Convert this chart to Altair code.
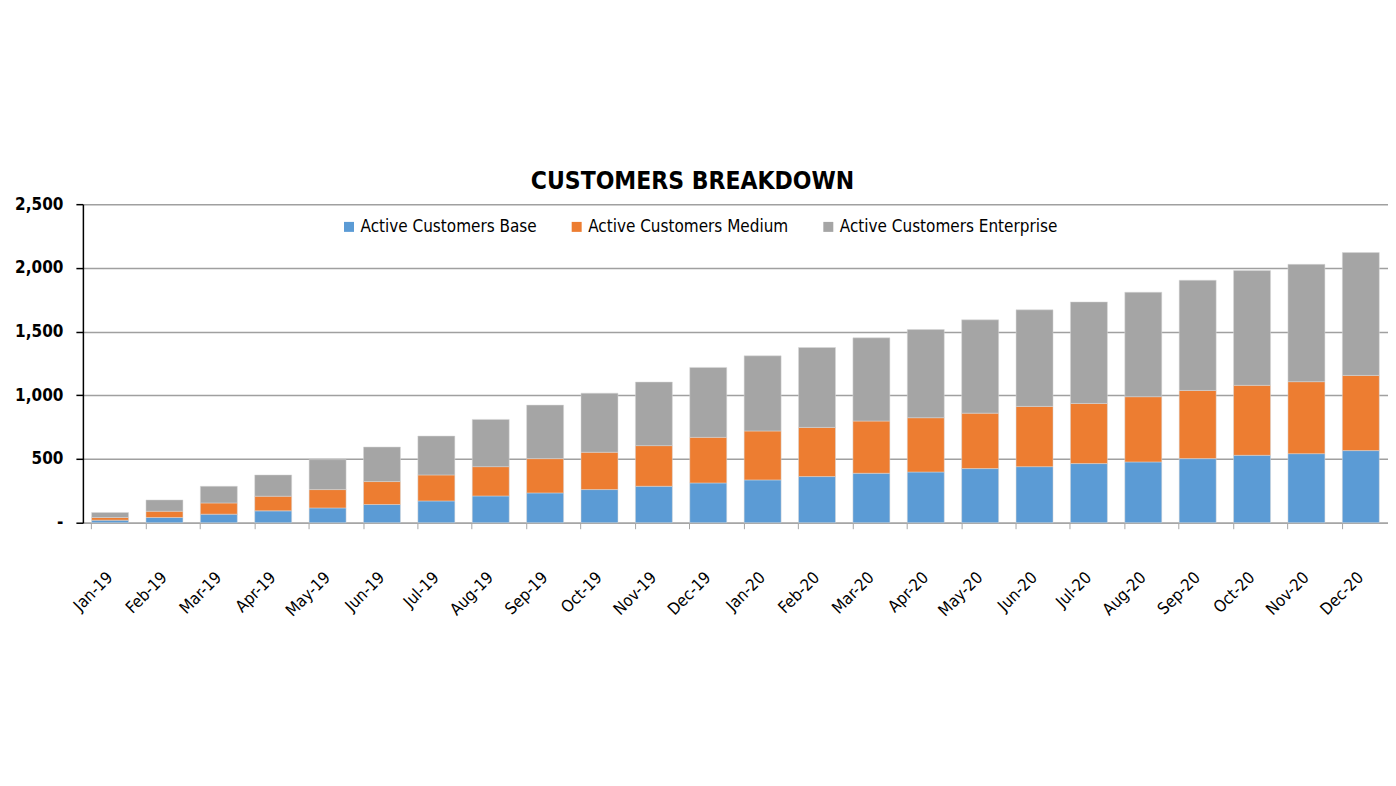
import altair as alt
import pandas as pd

months = ["Jan-19", "Feb-19", "Mar-19", "Apr-19", "May-19", "Jun-19", "Jul-19", "Aug-19",
          "Sep-19", "Oct-19", "Nov-19", "Dec-19", "Jan-20", "Feb-20", "Mar-20", "Apr-20",
          "May-20", "Jun-20", "Jul-20", "Aug-20", "Sep-20", "Oct-20", "Nov-20", "Dec-20"]
base = [20, 41, 67, 93, 116, 143, 171, 210, 234, 260, 286, 312,
        336, 362, 388, 398, 425, 440, 464, 477, 503, 529, 542, 566]
medium = [21, 49, 88, 115, 144, 180, 204, 230, 269, 293, 319, 358,
          384, 386, 410, 426, 435, 473, 472, 512, 535, 549, 565, 590]
enterprise = [39, 89, 131, 167, 235, 271, 305, 371, 420, 464, 499, 549,
              590, 627, 653, 692, 732, 758, 797, 820, 865, 901, 921, 964]
series = ["Active Customers Base", "Active Customers Medium", "Active Customers Enterprise"]
colors = ["#5B9BD5", "#ED7D31", "#A5A5A5"]

rows = []
for i, m in enumerate(months):
    for k, (name, vals) in enumerate(zip(series, [base, medium, enterprise])):
        rows.append({"month": m, "series": name, "value": vals[i], "order": k})
df = pd.DataFrame(rows)

FONT = "DejaVu Sans Condensed, DejaVu Sans, sans-serif"

chart = alt.Chart(df).mark_bar(stroke="#D9D9D9", strokeWidth=0.5).encode(
    x=alt.X("month:N", sort=months, title=None,
            scale=alt.Scale(paddingInner=0.32, paddingOuter=0.16),
            axis=alt.Axis(labelAngle=-45, labelAlign="right", labelBaseline="middle",
                          labelPadding=46, labelFontSize=16.5, labelFont=FONT, labelColor="#000000",
                          domainColor="#A6A6A6", domainWidth=1.5, tickColor="#A6A6A6",
                          tickSize=6, bandPosition=0, grid=False)),
    y=alt.Y("value:Q", stack="zero", title=None,
            scale=alt.Scale(domain=[0, 2500], nice=False),
            axis=alt.Axis(values=[0, 500, 1000, 1500, 2000, 2500],
                          labelExpr="datum.value == 0 ? '-' : format(datum.value, ',')",
                          labelFontSize=17, labelFontWeight="bold", labelFont=FONT,
                          labelColor="#000000", labelPadding=13,
                          domainColor="#000000", domainWidth=1.5, tickColor="#000000",
                          tickSize=7, tickWidth=1.5,
                          grid=True, gridColor="#A0A0A0", gridWidth=1.5)),
    color=alt.Color("series:N", sort=series,
                    scale=alt.Scale(domain=series, range=colors),
                    legend=alt.Legend(title=None, orient="none", direction="horizontal",
                                      legendX=258, legendY=14, symbolType="square",
                                      symbolSize=100, symbolStrokeWidth=0,
                                      labelFontSize=17, labelFont=FONT, labelColor="#000000",
                                      labelLimit=400, columnPadding=31, labelOffset=3)),
    order=alt.Order("order:Q"),
).properties(
    width=1307,
    height=319,
    title=alt.TitleParams("CUSTOMERS BREAKDOWN", fontSize=24.5, fontWeight="bold", font=FONT,
                          color="#000000", anchor="middle", offset=1, dx=-43),
    autosize=alt.AutoSizeParams(type="none"),
    padding={"left": 75, "top": 196, "right": 0, "bottom": 120},
).configure_view(stroke=None)

chart.save("out.html", embed_options={"renderer": "svg", "actions": False})
